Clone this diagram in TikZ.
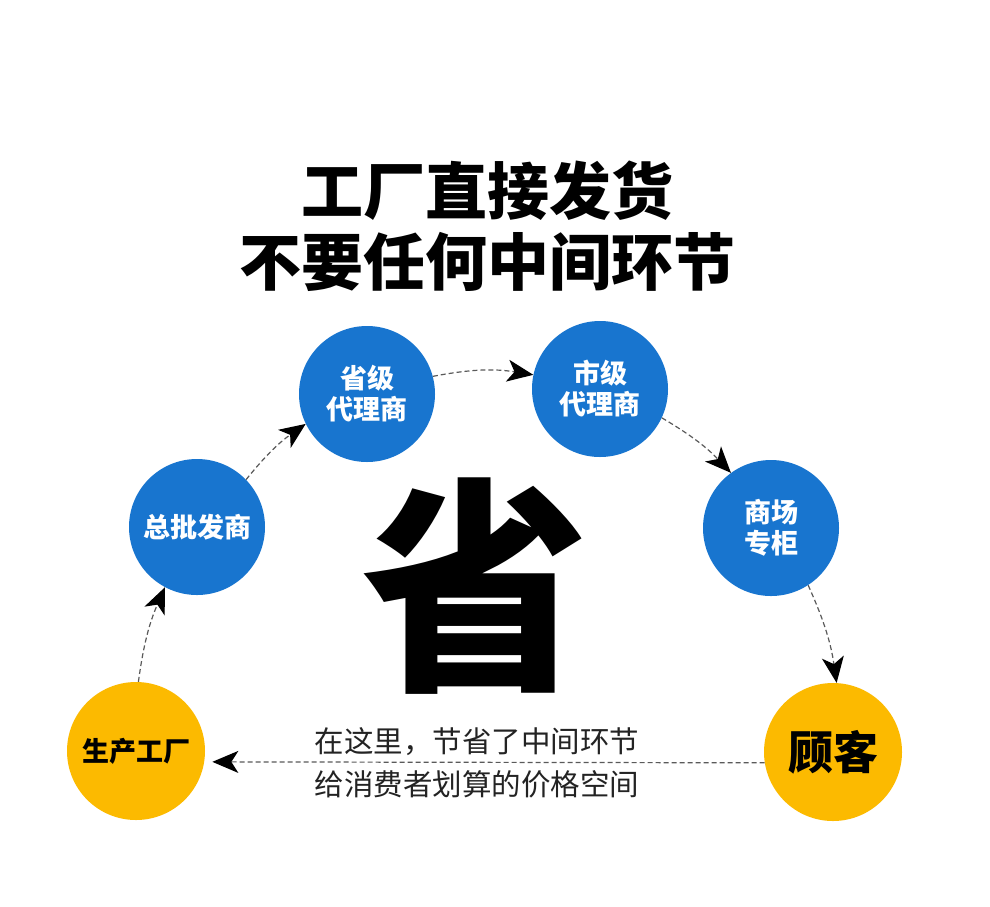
\documentclass[tikz,border=0pt]{standalone}
\usepackage{fontspec}
\newfontfamily\cjk{Noto Sans CJK SC}
\usetikzlibrary{arrows.meta}
\definecolor{cblue}{RGB}{24,117,207}
\definecolor{cyellow}{RGB}{252,186,0}
\definecolor{cgray}{RGB}{90,90,90}
\definecolor{ctext}{RGB}{35,35,35}
\tikzset{
  bluecirc/.style={circle,fill=cblue,minimum size=136pt,inner sep=0pt,text=white,align=center,
    font=\cjk\bfseries\fontsize{27}{31}\selectfont},
  yellowcirc/.style={circle,fill=cyellow,minimum size=138pt,inner sep=0pt,text=black,align=center},
  flow/.style={draw=cgray,line width=1.2pt,dash pattern=on 5pt off 3pt,
    -{Stealth[length=26pt,width=22pt,inset=7pt,color=black]}},
  titletxt/.style={inner sep=0pt,font=\cjk\bfseries\fontsize{62}{62}\selectfont},
  notetxt/.style={inner sep=0pt,text=ctext,font=\cjk\fontsize{29.5}{30}\selectfont}
}
\begin{document}
\begin{tikzpicture}[x=1pt,y=1pt]
\fill[white] (0,0) rectangle (990,-906);
\useasboundingbox (0,0) rectangle (990,-906);
% titles
\node[titletxt] (t1) at (487,-191) {工厂直接发货};
\node[titletxt] (t2) at (487,-262) {不要任何中间环节};
% big character
\node[inner sep=0pt,font=\cjk\bfseries\fontsize{228}{228}\selectfont] (big) at (475,-586) {省};
% circles
\node[yellowcirc,font=\cjk\bfseries\fontsize{27}{31}\selectfont] (sc) at (136,-751) {生产工厂};
\node[bluecirc] (zp) at (197,-527) {总批发商};
\node[bluecirc] (sj) at (367,-394) {省级\\代理商};
\node[bluecirc] (shij) at (600,-389) {市级\\代理商};
\node[bluecirc] (scz) at (771,-528) {商场\\专柜};
\node[yellowcirc,font=\cjk\bfseries\fontsize{45}{45}\selectfont] (gk) at (833,-752) {顾客};
% connectors
\draw[flow] (sc.88) to[bend left=8] (zp.242);
\draw[flow] (zp.44) to[bend left=8] (sj.206);
\draw[flow] (sj.15) to[bend left=10] (shij.168);
\draw[flow] (shij.335) to[bend left=8] (scz.126);
\draw[flow] (scz.303) to[bend left=8] (gk.87);
\draw[flow,shorten >=8pt] (gk.189) -- (sc.351);
% note
\node[notetxt] (n1) at (477,-742) {在这里，节省了中间环节};
\node[notetxt] (n2) at (477,-784) {给消费者划算的价格空间};
\end{tikzpicture}
\end{document}
